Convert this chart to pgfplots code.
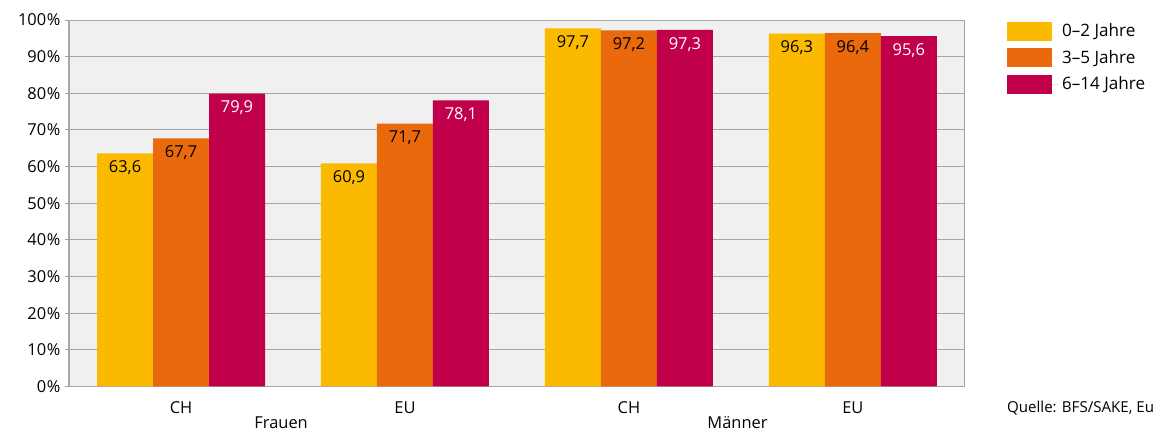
\documentclass[border=0pt]{standalone}
\usepackage{pgfplots}
\pgfplotsset{compat=1.18}
\usepackage{fontspec}
\setmainfont{Open Sans}
\definecolor{cyel}{HTML}{FBBA00}
\definecolor{corg}{HTML}{EA690C}
\definecolor{cred}{HTML}{C0004A}
\definecolor{cbg}{HTML}{EFF0EF}
\definecolor{cgrid}{HTML}{A6A6A6}
\begin{document}
\begin{tikzpicture}[x=1pt,y=1pt]
\begin{axis}[name=ax,
  scale only axis, width=671pt, height=274.5pt,
  xmin=-0.5, xmax=3.5, ymin=0, ymax=100,
  axis background/.style={fill=cbg},
  axis line style={draw=cgrid, line width=1.1pt},
  axis x line*=bottom, axis y line*=left,
  ybar, bar width=0.25,
  xtick={0,1,2,3}, xticklabels={CH,EU,CH,EU},
  major x tick style={draw=none},
  ytick={0,10,...,100},
  yticklabel={\pgfmathprintnumber{\tick}\kern0.5pt\%},
  /pgf/number format/assume math mode=true,
  ymajorgrids, grid style={cgrid, line width=0.7pt},
  major y tick style={cgrid, line width=0.7pt},
  tick align=outside, major tick length=3pt,
  tick label style={font=\fontsize{12.3}{14}\selectfont},
  xticklabel style={yshift=-5pt},
  nodes near coords,
  nodes near coords style={font=\fontsize{12.3}{14}\selectfont, anchor=north, yshift=-2pt,
    /pgf/number format/use comma, /pgf/number format/fixed,
    /pgf/number format/fixed zerofill, /pgf/number format/precision=1},
  legend style={at={(1.042,1)}, anchor=north west, yshift=1.5pt, draw=none, fill=none,
    font=\fontsize{12.8}{14}\selectfont, row sep=4.6pt},
  legend cell align=left,
  legend image code/.code={\fill[#1] (0pt,-7.1pt) rectangle (33.75pt,7.1pt); \path (0pt,0pt) -- (39.5pt,0pt);},
  clip=false,
]
\addplot[fill=cyel, draw=none, bar shift=-0.25] coordinates {(0,63.6) (1,60.9) (2,97.7) (3,96.3)};
\addplot[fill=corg, draw=none, bar shift=0] coordinates {(0,67.7) (1,71.7) (2,97.2) (3,96.4)};
\addplot[fill=cred, draw=none, bar shift=0.25, every node near coord/.append style={text=white}] coordinates {(0,79.9) (1,78.1) (2,97.3) (3,95.6)};
\legend{0--2 Jahre, 3--5 Jahre, 6--14 Jahre}
\draw[cgrid, line width=0.7pt] (rel axis cs:1,0) -- (rel axis cs:1,1);
\node[font=\fontsize{12.3}{14}\selectfont] at (axis cs:0.447,-9.9) {Frauen};
\node[font=\fontsize{12.3}{14}\selectfont] at (axis cs:2.485,-9.9) {Männer};
\node[font=\fontsize{11.3}{13}\selectfont, anchor=west, inner sep=0pt] at (axis cs:3.688,-5.8) {Quelle: BFS/SAKE, Eu};
\end{axis}
\pgfresetboundingbox
\path (ax.south west) ++(-51.75pt,-33.75pt) coordinate (bl);
\path (ax.north east) ++(141.75pt,15pt) coordinate (tr);
\useasboundingbox (bl) rectangle (tr);
\end{tikzpicture}
\end{document}
